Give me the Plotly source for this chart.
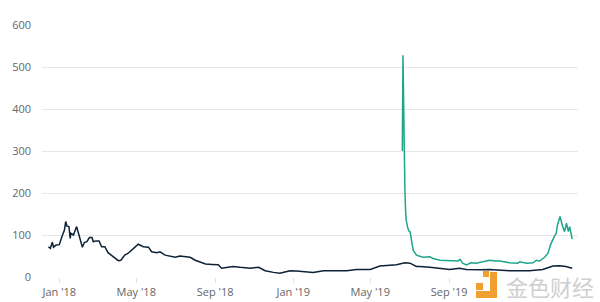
import plotly.graph_objects as go

# Dark series (long history)
dark_dates = [
    "2017-12-15", "2017-12-18", "2017-12-21", "2017-12-23", "2017-12-27", "2018-01-01",
    "2018-01-05", "2018-01-09", "2018-01-11", "2018-01-13", "2018-01-16", "2018-01-18",
    "2018-01-19", "2018-01-23", "2018-01-28", "2018-02-01", "2018-02-06", "2018-02-09",
    "2018-02-13", "2018-02-17", "2018-02-21", "2018-02-23", "2018-02-27", "2018-03-04",
    "2018-03-08", "2018-03-13", "2018-03-18", "2018-03-23", "2018-03-28", "2018-04-03",
    "2018-04-07", "2018-04-13", "2018-04-18", "2018-04-24", "2018-04-29", "2018-05-04",
    "2018-05-12", "2018-05-20", "2018-05-25", "2018-06-02", "2018-06-07", "2018-06-15",
    "2018-06-23", "2018-07-01", "2018-07-08", "2018-07-16", "2018-07-24", "2018-08-01",
    "2018-08-09", "2018-08-17", "2018-08-27", "2018-09-06", "2018-09-11", "2018-09-19",
    "2018-09-29", "2018-10-10", "2018-10-20", "2018-10-26", "2018-11-08", "2018-11-18",
    "2018-12-01", "2018-12-11", "2018-12-22", "2018-12-27", "2019-01-06", "2019-01-16",
    "2019-02-01", "2019-02-17", "2019-03-10", "2019-03-25", "2019-04-10", "2019-05-01",
    "2019-05-16", "2019-06-01", "2019-06-11", "2019-06-24", "2019-07-02", "2019-07-12",
    "2019-07-17", "2019-08-02", "2019-08-18", "2019-09-02", "2019-09-17", "2019-09-28",
    "2019-10-19", "2019-11-03", "2019-12-04", "2020-01-04", "2020-01-25", "2020-02-10",
    "2020-02-20", "2020-03-01", "2020-03-11",
]
dark_values = [
    72, 68, 83, 71, 76, 77,
    96, 112, 132, 121, 120, 92,
    104, 100, 120, 100, 71, 82,
    84, 94, 94, 84, 86, 86,
    72, 72, 58, 52, 46, 39,
    40, 52, 56, 63, 71, 78,
    72, 71, 60, 58, 60, 52,
    50, 47, 50, 48, 47, 40,
    36, 31, 30, 29, 21, 23,
    25, 23, 22, 21, 23, 15,
    11, 9, 13, 15, 14, 13,
    11, 15, 15, 15, 18, 18,
    26, 27, 29, 34, 33, 25,
    25, 23, 21, 18, 21, 18,
    17, 18, 15, 15, 18, 26,
    27, 25, 21,
]

# Teal series (starts mid-2019 with a spike)
teal_dates = [
    "2019-06-20", "2019-06-21", "2019-06-22", "2019-06-23", "2019-06-24", "2019-06-25",
    "2019-06-26", "2019-06-28", "2019-06-30", "2019-07-02", "2019-07-04", "2019-07-07",
    "2019-07-12", "2019-07-22", "2019-08-02", "2019-08-07", "2019-08-18", "2019-09-02",
    "2019-09-15", "2019-09-18", "2019-09-22", "2019-09-28", "2019-10-05", "2019-10-13",
    "2019-10-21", "2019-11-03", "2019-11-13", "2019-11-19", "2019-12-04", "2019-12-17",
    "2019-12-20", "2019-12-31", "2020-01-10", "2020-01-15", "2020-01-20", "2020-01-28",
    "2020-02-02", "2020-02-07", "2020-02-12", "2020-02-15", "2020-02-17", "2020-02-21",
    "2020-02-25", "2020-02-28", "2020-03-02", "2020-03-05", "2020-03-07", "2020-03-11",
]
teal_values = [
    300, 528, 420, 227, 210, 160,
    136, 120, 110, 108, 85, 64,
    52, 47, 48, 44, 40, 38,
    38, 42, 33, 29, 34, 33,
    36, 40, 38, 38, 34, 33,
    36, 33, 34, 40, 38, 47,
    56, 80, 96, 104, 124, 144,
    120, 108, 128, 108, 120, 90,
]

tick_vals = ["2018-01-01", "2018-05-01", "2018-09-01", "2019-01-01", "2019-05-01", "2019-09-01"]
tick_text = ["Jan '18", "May '18", "Sep '18", "Jan '19", "May '19", "Sep '19"]
y_ticks = [0, 100, 200, 300, 400, 500, 600]

fig = go.Figure()
fig.add_trace(go.Scatter(x=teal_dates, y=teal_values, mode="lines",
                         line=dict(color="#1fa58a", width=1.5), showlegend=False))
fig.add_trace(go.Scatter(x=dark_dates, y=dark_values, mode="lines",
                         line=dict(color="#0d2236", width=1.5), showlegend=False))

# watermark logo (orange blocks) and text
def px2paper(x0, y0, x1, y1):
    return dict(x0=(x0 - 42) / 536, x1=(x1 - 42) / 536,
                y0=(277 - y1) / 252, y1=(277 - y0) / 252)

shapes = []
for r in [(490, 272, 497, 298), (476, 291, 497, 298), (476, 283, 483, 290), (483, 271, 489, 277)]:
    d = px2paper(*r)
    shapes.append(dict(type="rect", xref="paper", yref="paper", fillcolor="#f0a030",
                       line=dict(width=0), layer="above", **d))

fig.update_layout(
    width=600, height=302,
    margin=dict(l=42, r=22, t=25, b=25),
    paper_bgcolor="white", plot_bgcolor="white",
    font=dict(family="Open Sans, Lato, sans-serif", size=11, color="#666666"),
    shapes=shapes,
    annotations=[dict(text="金色财经", xref="paper", yref="paper",
                      x=(596 - 42) / 536, xanchor="right",
                      y=(277 - 286) / 252, yanchor="middle", showarrow=False,
                      font=dict(family="Noto Sans CJK SC", size=22, color="#cfcfcf"))],
    xaxis=dict(type="date", range=["2017-12-05", "2020-03-20"],
               tickvals=tick_vals, ticktext=tick_text, showgrid=False,
               ticks="outside", ticklen=5, tickcolor="#e0e0e0",
               showline=False, zeroline=False, automargin=False),
    yaxis=dict(range=[0, 600], tickvals=y_ticks, showgrid=True, gridcolor="#e6e6e6",
               zeroline=False, showline=False, ticklabelstandoff=10, automargin=False),
)

fig.write_html("out.html")
